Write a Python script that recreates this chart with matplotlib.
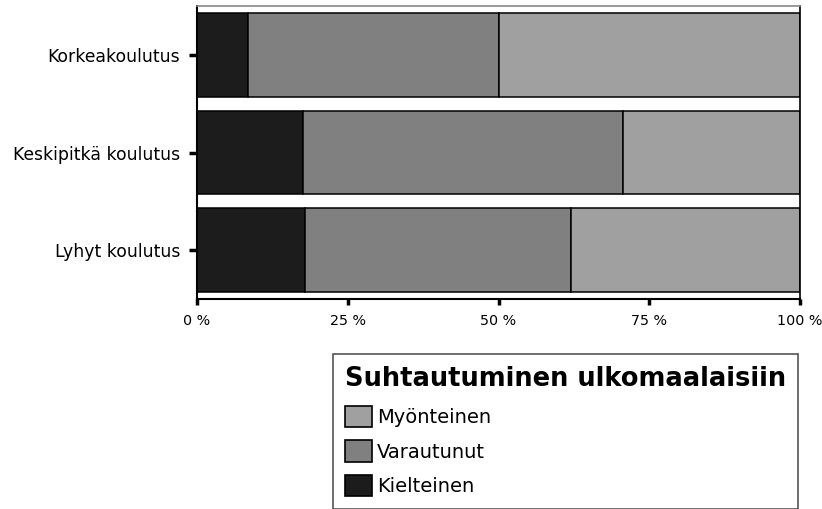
import numpy as np
import matplotlib.pyplot as plt
from matplotlib.patches import Patch

categories = ["Korkeakoulutus", "Keskipitkä koulutus", "Lyhyt koulutus"]
series = ["Kielteinen", "Varautunut", "Myönteinen"]
kielteinen = [8.4, 17.5, 17.9]
varautunut = [41.7, 53.2, 44.1]
myonteinen = [49.9, 29.3, 38.0]
colors = {"Kielteinen": "#1c1c1c", "Varautunut": "#808080", "Myönteinen": "#a0a0a0"}
xticks = [0, 25, 50, 75, 100]
xticklabels = ["0 %", "25 %", "50 %", "75 %", "100 %"]
legend_title = "Suhtautuminen ulkomaalaisiin"

fig = plt.figure(figsize=(8.22, 5.09), dpi=100)
ax = fig.add_axes([197 / 822, 1 - 299 / 509, 603 / 822, 293 / 509])

y = np.arange(len(categories))
left = np.zeros(len(categories))
for name, vals in zip(series, [kielteinen, varautunut, myonteinen]):
    ax.barh(y, vals, left=left, height=0.86, color=colors[name],
            edgecolor="black", linewidth=1.1, label=name)
    left += np.array(vals)

ax.set_xlim(0, 100)
ax.set_ylim(2.5, -0.5)
ax.set_yticks(y)
ax.set_yticklabels(categories, fontsize=12.4)
ax.set_xticks(xticks)
ax.set_xticklabels(xticklabels, fontsize=10.3)
ax.tick_params(axis="y", direction="out", length=6, width=2.5, color="black", pad=6)
ax.tick_params(axis="x", direction="out", length=4, width=2.5, color="black", pad=6.5)
ax.spines["top"].set_color("#888888")
ax.spines["top"].set_linewidth(1.2)
ax.spines["right"].set_color("black")
ax.spines["right"].set_linewidth(1.2)
for side in ["left", "bottom"]:
    ax.spines[side].set_color("black")
    ax.spines[side].set_linewidth(1.5)

handles = [Patch(facecolor=colors[n], edgecolor="black", linewidth=1.2, label=n)
           for n in ["Myönteinen", "Varautunut", "Kielteinen"]]
leg = fig.legend(handles=handles, title=legend_title, loc="upper left",
                 bbox_to_anchor=(333 / 822, 1 - 354 / 509), fontsize=14,
                 title_fontproperties={"weight": "bold", "size": 18.5},
                 alignment="left", frameon=True, fancybox=False,
                 edgecolor="#555555", framealpha=1, handlelength=1.4,
                 handleheight=1.3, handletextpad=0.25, labelspacing=0.7,
                 borderpad=0.62, borderaxespad=0)
leg.get_frame().set_linewidth(1.2)

fig.savefig("out.png", dpi=100)
